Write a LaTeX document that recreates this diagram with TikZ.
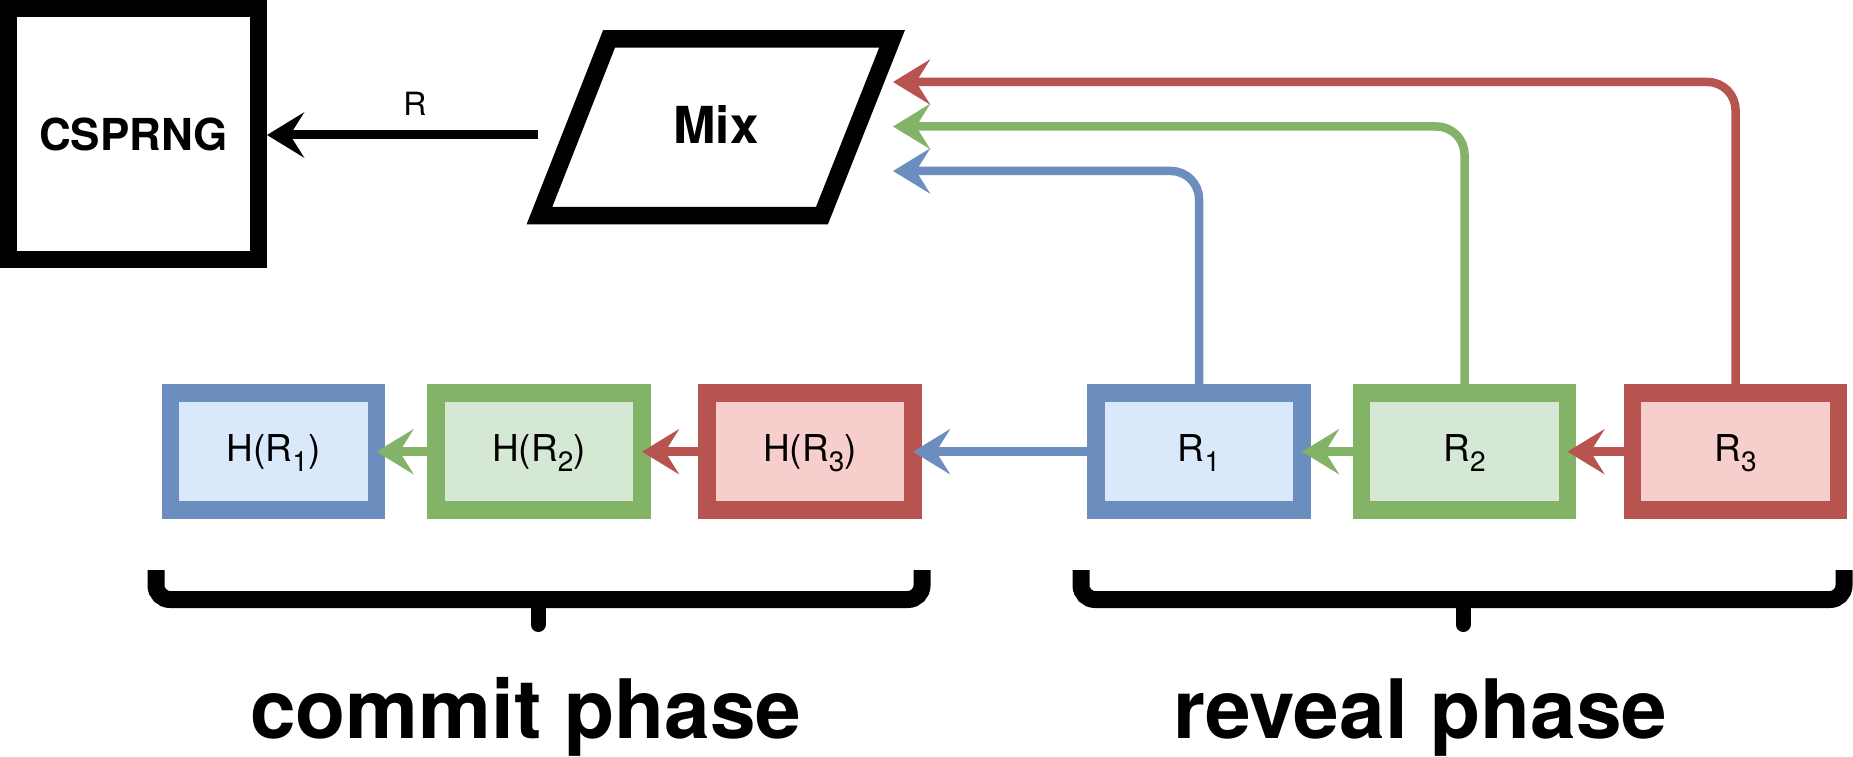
\documentclass[tikz,border=0pt]{standalone}
\usepackage{fontspec}
\setmainfont{TeX Gyre Heros}
\usetikzlibrary{arrows.meta}
\definecolor{bstroke}{HTML}{6C8EBF}
\definecolor{bfill}{HTML}{DAE8FC}
\definecolor{gstroke}{HTML}{82B366}
\definecolor{gfill}{HTML}{D5E8D4}
\definecolor{rstroke}{HTML}{B85450}
\definecolor{rfill}{HTML}{F8CECC}
\newcommand\lsub[1]{\raisebox{-10pt}{\fontsize{28}{28}\selectfont #1}}
\tikzset{
  every node/.style={inner sep=0pt},
  cbox/.style={draw, line width=17.5pt, minimum width=206pt, minimum height=117pt,
    outer sep=0pt, text height=19pt, text depth=0pt, font=\fontsize{37}{37}\selectfont},
  bluebox/.style={cbox, draw=bstroke, fill=bfill},
  greenbox/.style={cbox, draw=gstroke, fill=gfill},
  redbox/.style={cbox, draw=rstroke, fill=rfill},
  link/.style={line width=8.5pt, -{Stealth[length=37pt, width=45pt, inset=14pt]}},
  bracepath/.style={line width=17pt, rounded corners=14pt},
  bracetip/.style={line width=15pt, line cap=round},
  phase/.style={font=\bfseries\fontsize{82}{82}\selectfont, anchor=base west},
}
\begin{document}
\begin{tikzpicture}[x=1pt, y=-1pt]
\useasboundingbox (0,0) rectangle (1853,757);

% CSPRNG
\node[draw, line width=17pt, minimum width=250pt, minimum height=250.5pt,
  text height=31.5pt, text depth=0pt, font=\bfseries\fontsize{44}{44}\selectfont]
  (cs) at (133.5,134.25) {CSPRNG};

% Mix parallelogram
\draw[line width=17.5pt, line join=miter] (609,39) -- (892,39) -- (822,215.5) -- (539.5,215.5) -- cycle;
\node[font=\bfseries\fontsize{51}{51}\selectfont, text height=33.5pt, text depth=0pt]
  (mix) at (716,127.25) {Mix};
\coordinate (mixout) at (538,135);
\coordinate (inred) at (893,82);
\coordinate (ingreen) at (893,126.5);
\coordinate (inblue) at (893,171);

% boxes
\node[bluebox] (h1) at (273.5,451.7) {H(R\lsub{1})};
\node[greenbox] (h2) at (539,451.7) {H(R\lsub{2})};
\node[redbox] (h3) at (810,451.7) {H(R\lsub{3})};
\node[bluebox] (r1) at (1199,451.7) {R\lsub{1}};
\node[greenbox] (r2) at (1464.5,451.7) {R\lsub{2}};
\node[redbox] (r3) at (1735.5,451.7) {R\lsub{3}};

% R arrow
\draw[link, line width=9pt] (mixout) -- (cs.east |- mixout);
\node[font=\fontsize{32}{32}\selectfont, anchor=base] (rlab) at (415,116) {R};

% arrows into Mix
\draw[link, rstroke, rounded corners=28pt] (r3.north) |- (inred);
\draw[link, gstroke, rounded corners=28pt] (r2.north) |- (ingreen);
\draw[link, bstroke, rounded corners=28pt] (r1.north) |- (inblue);

% chain arrows
\draw[link, rstroke] (r3) -- (r2);
\draw[link, gstroke] (r2) -- (r1);
\draw[link, bstroke] (r1) -- (h3);
\draw[link, rstroke] (h3) -- (h2);
\draw[link, gstroke] (h2) -- (h1);

% braces
\draw[bracepath] (156,570) -- (156,599.5) -- (922,599.5) -- (922,570);
\draw[bracetip] (538,600) -- (538,624.5);
\draw[bracepath] (1081,570) -- (1081,599.5) -- (1844,599.5) -- (1844,570);
\draw[bracetip] (1463,600) -- (1463,624.5);

% phase labels
\node[phase] (commit) at (250,738) {commit phase};
\node[phase] (reveal) at (1173,738) {reveal phase};
\end{tikzpicture}
\end{document}
